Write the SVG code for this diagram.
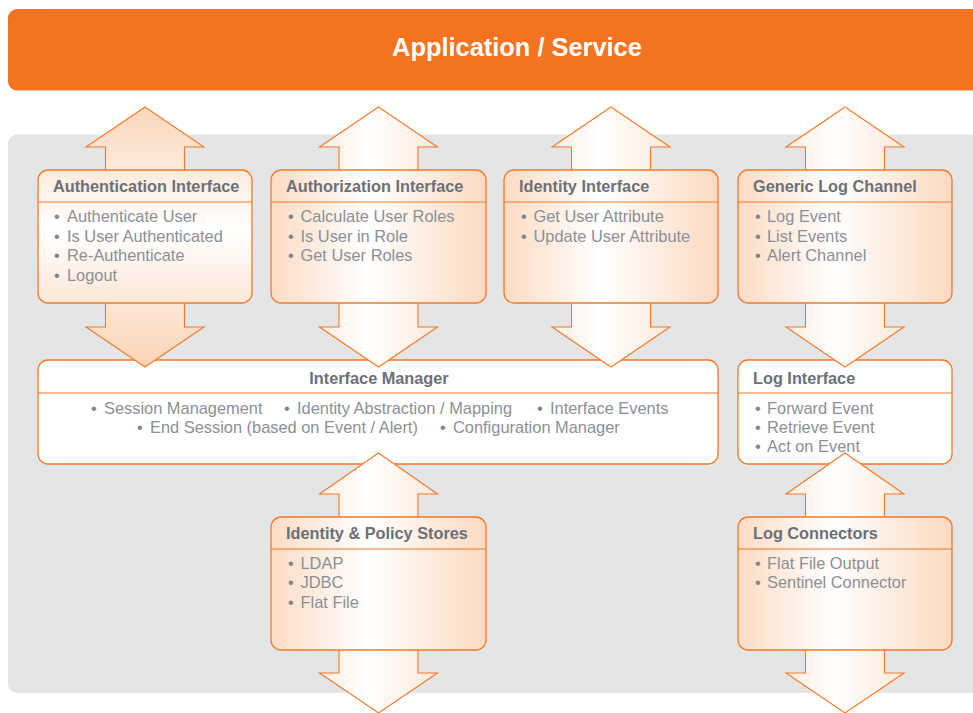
<svg xmlns="http://www.w3.org/2000/svg" width="973" height="713" viewBox="0 0 973 713">
  <style>
    .hdr { font-family: "Liberation Sans", Arial, sans-serif; font-weight: bold; font-size: 16.3px; fill: #6b7177; }
    .itm { font-family: "Liberation Sans", Arial, sans-serif; font-size: 16.4px; fill: #8b9096; }
    .dot { fill: #80868c; }
    .box { stroke: #f47a26; stroke-width: 1.3; }
    .div { stroke: #f47a26; stroke-width: 1.2; fill: none; }
    .arrow { stroke: #f47a26; stroke-width: 1.1; stroke-linejoin: miter; }
  </style>
  <defs>
    <!-- vertical wash for the first column -->
    <linearGradient id="gAuth" gradientUnits="userSpaceOnUse" x1="0" y1="107" x2="0" y2="367">
      <stop offset="0" stop-color="#fbd6ba"/>
      <stop offset="0.47" stop-color="#ffffff"/>
      <stop offset="1" stop-color="#fbd3b5"/>
    </linearGradient>
    <!-- horizontal washes, one per column -->
    <linearGradient id="gCol2" gradientUnits="userSpaceOnUse" x1="271" y1="0" x2="486" y2="0">
      <stop offset="0" stop-color="#fddcc4"/>
      <stop offset="0.45" stop-color="#ffffff"/>
      <stop offset="1" stop-color="#fcdac1"/>
    </linearGradient>
    <linearGradient id="gCol3" gradientUnits="userSpaceOnUse" x1="504" y1="0" x2="718" y2="0">
      <stop offset="0" stop-color="#fddcc4"/>
      <stop offset="0.45" stop-color="#ffffff"/>
      <stop offset="1" stop-color="#fcdac1"/>
    </linearGradient>
    <linearGradient id="gCol4" gradientUnits="userSpaceOnUse" x1="738" y1="0" x2="952" y2="0">
      <stop offset="0" stop-color="#fddcc4"/>
      <stop offset="0.45" stop-color="#ffffff"/>
      <stop offset="1" stop-color="#fcdac1"/>
    </linearGradient>
  </defs>

  <!-- application banner -->
  <g id="application-service">
    <rect x="8" y="9" width="990" height="81.5" rx="9" fill="#f37321"/>
    <text x="517" y="56" text-anchor="middle" font-family="'Liberation Sans', Arial, sans-serif" font-weight="bold" font-size="25.4" fill="#ffffff">Application / Service</text>
  </g>

  <!-- backdrop panel -->
  <rect x="8" y="134.5" width="990" height="558.5" rx="9" fill="#e4e5e7"/>

  <!-- shared middle layer -->
  <g id="interface-manager">
    <rect class="box" x="38" y="360" width="680" height="104" rx="10" fill="#ffffff"/>
    <line class="div" x1="38" y1="393" x2="718" y2="393"/>
    <text class="hdr" x="379" y="383.5" text-anchor="middle">Interface Manager</text>
    <text class="itm" y="413.5"><tspan class="dot" x="91">•</tspan><tspan x="104">Session Management</tspan></text>
    <text class="itm" y="413.5"><tspan class="dot" x="284">•</tspan><tspan x="297">Identity Abstraction / Mapping</tspan></text>
    <text class="itm" y="413.5"><tspan class="dot" x="537">•</tspan><tspan x="550">Interface Events</tspan></text>
    <text class="itm" y="432.5"><tspan class="dot" x="137">•</tspan><tspan x="150">End Session (based on Event / Alert)</tspan></text>
    <text class="itm" y="432.5"><tspan class="dot" x="440">•</tspan><tspan x="453">Configuration Manager</tspan></text>
  </g>

  <g id="log-interface">
    <rect class="box" x="738" y="360" width="214" height="104" rx="10" fill="#ffffff"/>
    <line class="div" x1="738" y1="393" x2="952" y2="393"/>
    <text class="hdr" x="753" y="383.5">Log Interface</text>
    <text class="itm" y="413.5"><tspan class="dot" x="755">•</tspan><tspan x="767">Forward Event</tspan></text>
    <text class="itm" y="432.5"><tspan class="dot" x="755">•</tspan><tspan x="767">Retrieve Event</tspan></text>
    <text class="itm" y="451.5"><tspan class="dot" x="755">•</tspan><tspan x="767">Act on Event</tspan></text>
  </g>

  <!-- double-headed block arrows -->
  <g id="connectors">
    <polygon class="arrow" fill="url(#gAuth)" points="145,107 204,147 184.5,147 184.5,327 204,327 145,367 86,327 105.5,327 105.5,147 86,147"/>
    <polygon class="arrow" fill="url(#gCol2)" points="378.5,107 437.5,147 418,147 418,327 437.5,327 378.5,367 319.5,327 339,327 339,147 319.5,147"/>
    <polygon class="arrow" fill="url(#gCol3)" points="611,107 670,147 650.5,147 650.5,327 670,327 611,367 552,327 571.5,327 571.5,147 552,147"/>
    <polygon class="arrow" fill="url(#gCol4)" points="845,107 904,147 884.5,147 884.5,327 904,327 845,367 786,327 805.5,327 805.5,147 786,147"/>
    <polygon class="arrow" fill="url(#gCol2)" points="378.5,453 437.5,494 418,494 418,673 437.5,673 378.5,713 319.5,673 339,673 339,494 319.5,494"/>
    <polygon class="arrow" fill="url(#gCol4)" points="845,453 904,494 884.5,494 884.5,673 904,673 845,713 786,673 805.5,673 805.5,494 786,494"/>
  </g>

  <!-- interface nodes -->
  <g id="authentication-interface">
    <rect class="box" x="38" y="170" width="214" height="133" rx="10" fill="url(#gAuth)"/>
    <line class="div" x1="38" y1="202" x2="252" y2="202"/>
    <text class="hdr" x="53" y="192">Authentication Interface</text>
    <text class="itm" y="222"><tspan class="dot" x="54">•</tspan><tspan x="67">Authenticate User</tspan></text>
    <text class="itm" y="241.5"><tspan class="dot" x="54">•</tspan><tspan x="67">Is User Authenticated</tspan></text>
    <text class="itm" y="261"><tspan class="dot" x="54">•</tspan><tspan x="67">Re-Authenticate</tspan></text>
    <text class="itm" y="280.5"><tspan class="dot" x="54">•</tspan><tspan x="67">Logout</tspan></text>
  </g>

  <g id="authorization-interface">
    <rect class="box" x="271" y="170" width="215" height="133" rx="10" fill="url(#gCol2)"/>
    <line class="div" x1="271" y1="202" x2="486" y2="202"/>
    <text class="hdr" x="286" y="192">Authorization Interface</text>
    <text class="itm" y="222"><tspan class="dot" x="288">•</tspan><tspan x="300.5">Calculate User Roles</tspan></text>
    <text class="itm" y="241.5"><tspan class="dot" x="288">•</tspan><tspan x="300.5">Is User in Role</tspan></text>
    <text class="itm" y="261"><tspan class="dot" x="288">•</tspan><tspan x="300.5">Get User Roles</tspan></text>
  </g>

  <g id="identity-interface">
    <rect class="box" x="504" y="170" width="214" height="133" rx="10" fill="url(#gCol3)"/>
    <line class="div" x1="504" y1="202" x2="718" y2="202"/>
    <text class="hdr" x="519" y="192">Identity Interface</text>
    <text class="itm" y="222"><tspan class="dot" x="521">•</tspan><tspan x="533.5">Get User Attribute</tspan></text>
    <text class="itm" y="241.5"><tspan class="dot" x="521">•</tspan><tspan x="533.5">Update User Attribute</tspan></text>
  </g>

  <g id="generic-log-channel">
    <rect class="box" x="738" y="170" width="214" height="133" rx="10" fill="url(#gCol4)"/>
    <line class="div" x1="738" y1="202" x2="952" y2="202"/>
    <text class="hdr" x="753" y="192">Generic Log Channel</text>
    <text class="itm" y="222"><tspan class="dot" x="755">•</tspan><tspan x="767">Log Event</tspan></text>
    <text class="itm" y="241.5"><tspan class="dot" x="755">•</tspan><tspan x="767">List Events</tspan></text>
    <text class="itm" y="261"><tspan class="dot" x="755">•</tspan><tspan x="767">Alert Channel</tspan></text>
  </g>

  <!-- back-end nodes -->
  <g id="identity-policy-stores">
    <rect class="box" x="271" y="517" width="215" height="133" rx="10" fill="url(#gCol2)"/>
    <line class="div" x1="271" y1="549" x2="486" y2="549"/>
    <text class="hdr" x="286" y="539">Identity &amp; Policy Stores</text>
    <text class="itm" y="568.5"><tspan class="dot" x="288">•</tspan><tspan x="300.5">LDAP</tspan></text>
    <text class="itm" y="588"><tspan class="dot" x="288">•</tspan><tspan x="300.5">JDBC</tspan></text>
    <text class="itm" y="607.5"><tspan class="dot" x="288">•</tspan><tspan x="300.5">Flat File</tspan></text>
  </g>

  <g id="log-connectors">
    <rect class="box" x="738" y="517" width="214" height="133" rx="10" fill="url(#gCol4)"/>
    <line class="div" x1="738" y1="549" x2="952" y2="549"/>
    <text class="hdr" x="753" y="539">Log Connectors</text>
    <text class="itm" y="568.5"><tspan class="dot" x="755">•</tspan><tspan x="767">Flat File Output</tspan></text>
    <text class="itm" y="588"><tspan class="dot" x="755">•</tspan><tspan x="767">Sentinel Connector</tspan></text>
  </g>
</svg>
